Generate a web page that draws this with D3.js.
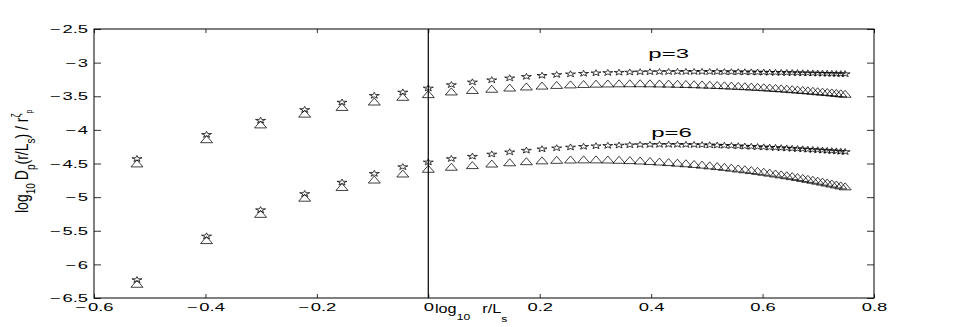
<!DOCTYPE html>
<html>
<head>
<meta charset="utf-8">
<script src="https://cdn.jsdelivr.net/npm/d3@7/dist/d3.min.js"></script>
<style>
  body { margin: 0; background: #fff; }
  text { font-family: "Liberation Sans", Arial, sans-serif; fill: #000; }
</style>
</head>
<body>
<svg id="chart"></svg>
<script>
// r / L_s sample points (x axis is log10 of these)
const rValues = [0.3, 0.4, 0.5, 0.6, 0.7, 0.8, 0.9, 1.0,
  1.1, 1.2, 1.3, 1.4, 1.5, 1.6, 1.7, 1.8, 1.9, 2.0,
  2.1, 2.2, 2.3, 2.4, 2.5, 2.6, 2.7, 2.8, 2.9, 3.0,
  3.1, 3.2, 3.3, 3.4, 3.5, 3.6, 3.7, 3.8, 3.9, 4.0,
  4.1, 4.2, 4.3, 4.4, 4.5, 4.6, 4.7, 4.8, 4.9, 5.0,
  5.1, 5.2, 5.3, 5.4, 5.5, 5.6];

const starP3 = [-4.43, -4.07, -3.86, -3.70, -3.59, -3.49, -3.44, -3.38,
  -3.330, -3.290, -3.258, -3.230, -3.208, -3.192, -3.180, -3.170, -3.162, -3.155,
  -3.150, -3.146, -3.143, -3.140, -3.138, -3.137, -3.136, -3.135, -3.135, -3.135,
  -3.135, -3.136, -3.137, -3.138, -3.139, -3.140, -3.141, -3.142, -3.144, -3.145,
  -3.146, -3.148, -3.149, -3.150, -3.152, -3.153, -3.155, -3.156, -3.158, -3.159,
  -3.161, -3.162, -3.164, -3.165, -3.167, -3.168];

const triP3 = [-4.50, -4.14, -3.92, -3.76, -3.66, -3.58, -3.51, -3.47,
  -3.430, -3.408, -3.390, -3.372, -3.356, -3.343, -3.333, -3.325, -3.319, -3.314,
  -3.311, -3.309, -3.308, -3.308, -3.309, -3.311, -3.313, -3.316, -3.319, -3.322,
  -3.326, -3.330, -3.334, -3.338, -3.343, -3.347, -3.352, -3.357, -3.362, -3.367,
  -3.373, -3.378, -3.384, -3.390, -3.396, -3.402, -3.408, -3.414, -3.420, -3.427,
  -3.433, -3.439, -3.445, -3.452, -3.458, -3.465];

const starP6 = [-6.23, -5.58, -5.19, -4.95, -4.78, -4.65, -4.55, -4.48,
  -4.430, -4.395, -4.362, -4.330, -4.305, -4.285, -4.270, -4.258, -4.248, -4.240,
  -4.234, -4.229, -4.225, -4.222, -4.220, -4.219, -4.219, -4.219, -4.220, -4.222,
  -4.224, -4.227, -4.230, -4.233, -4.237, -4.241, -4.245, -4.249, -4.253, -4.257,
  -4.261, -4.265, -4.269, -4.273, -4.278, -4.282, -4.286, -4.291, -4.295, -4.300,
  -4.304, -4.308, -4.313, -4.317, -4.322, -4.326];

const triP6 = [-6.29, -5.64, -5.25, -5.01, -4.85, -4.74, -4.65, -4.58,
  -4.550, -4.525, -4.502, -4.483, -4.467, -4.455, -4.447, -4.442, -4.440, -4.440,
  -4.442, -4.446, -4.451, -4.457, -4.464, -4.472, -4.480, -4.489, -4.498, -4.508,
  -4.518, -4.529, -4.540, -4.551, -4.563, -4.575, -4.587, -4.599, -4.611, -4.624,
  -4.637, -4.650, -4.663, -4.676, -4.689, -4.703, -4.716, -4.730, -4.743, -4.757,
  -4.771, -4.785, -4.799, -4.813, -4.827, -4.841];

const xTicks = [-0.6, -0.4, -0.2, 0, 0.2, 0.4, 0.6, 0.8];
const yTicks = [-2.5, -3, -3.5, -4, -4.5, -5, -5.5, -6, -6.5];
const curveLabels = [
  { text: "p=3", x: 0.395, y: -2.93 },
  { text: "p=6", x: 0.400, y: -4.10 }
];

const width = 977, height = 327;
const margin = { left: 94, right: 103, top: 29, bottom: 29 };
const innerW = width - margin.left - margin.right;
const innerH = height - margin.top - margin.bottom;
const stretch = 1.6; // the picture is wider than it is tall

const svg = d3.select("#chart").attr("width", width).attr("height", height);
const g = svg.append("g").attr("transform", `translate(${margin.left},${margin.top})`);

const x = d3.scaleLinear().domain([-0.6, 0.8]).range([0, innerW]);
const y = d3.scaleLinear().domain([-6.5, -2.5]).range([innerH, 0]);

// tick label with a long minus sign, as in the original
function tickLabel(sel) {
  sel.each(function(d) {
    const t = d3.select(this).text("");
    if (d < 0) {
      t.append("tspan").text("\u2212");
      t.append("tspan").attr("dx", 1).text(Math.abs(d));
    } else {
      t.append("tspan").text(d);
    }
  });
}

// axes, ticks pointing inward
const xAxis = g.append("g").attr("transform", `translate(0,${innerH})`)
  .call(d3.axisBottom(x).tickValues(xTicks).tickSizeInner(-4).tickSizeOuter(0).tickPadding(5));
const xTop = g.append("g")
  .call(d3.axisTop(x).tickValues(xTicks).tickSizeInner(-4).tickSizeOuter(0).tickFormat(""));
const yAxis = g.append("g")
  .call(d3.axisLeft(y).tickValues(yTicks).tickSizeInner(-7).tickSizeOuter(0).tickPadding(6));
const yRight = g.append("g").attr("transform", `translate(${innerW},0)`)
  .call(d3.axisRight(y).tickValues(yTicks).tickSizeInner(-7).tickSizeOuter(0).tickFormat(""));

[xAxis, xTop, yAxis, yRight].forEach(a => {
  a.select(".domain").remove();
  a.selectAll(".tick line").attr("stroke", "#000").attr("stroke-width", 0.8);
});

xAxis.selectAll(".tick text")
  .attr("font-size", 11.5)
  .attr("transform", `scale(${stretch},1)`)
  .call(tickLabel);
yAxis.selectAll(".tick text")
  .attr("font-size", 11.5)
  .attr("x", -6 / stretch)
  .attr("transform", `scale(${stretch},1)`)
  .call(tickLabel);

// frame
g.append("rect")
  .attr("width", innerW).attr("height", innerH)
  .attr("fill", "none").attr("stroke", "#000").attr("stroke-width", 1);

// vertical line at x = 0
g.append("line")
  .attr("x1", x(0)).attr("x2", x(0))
  .attr("y1", 0).attr("y2", innerH)
  .attr("stroke", "#000").attr("stroke-width", 1.2);

// marker shapes
function starPath(R) {
  const pts = [];
  for (let i = 0; i < 10; i++) {
    const rr = i % 2 === 0 ? R : R * 0.382;
    const a = -Math.PI / 2 + i * Math.PI / 5;
    pts.push([rr * Math.cos(a) * stretch, rr * Math.sin(a)]);
  }
  return "M" + pts.map(p => p.join(",")).join("L") + "Z";
}
const triPath = "M0,-3.6L6,3.4L-6,3.4Z";
const star = starPath(3.3);

function drawSeries(values, path) {
  g.append("g").selectAll("path")
    .data(values.map((v, i) => ({ x: Math.log10(rValues[i]), y: v })))
    .enter().append("path")
    .attr("d", path)
    .attr("transform", d => `translate(${x(d.x)},${y(d.y)})`)
    .attr("fill", "none")
    .attr("stroke", "#000")
    .attr("stroke-width", 0.75);
}
drawSeries(triP3, triPath);
drawSeries(starP3, star);
drawSeries(triP6, triPath);
drawSeries(starP6, star);

// curve labels
curveLabels.forEach(l => {
  g.append("text")
    .attr("transform", `translate(${x(l.x)},${y(l.y)}) scale(2,1)`)
    .attr("font-size", 12)
    .text(l.text);
});

// x label: log10 r/Ls
const xl = svg.append("text")
  .attr("transform", `translate(435,313) scale(1.35,1)`)
  .attr("font-size", 12);
xl.append("tspan").text("log");
xl.append("tspan").attr("font-size", 9).attr("dy", 7).text("10");
xl.append("tspan").attr("dx", 9).attr("dy", -7).text("r/L");
xl.append("tspan").attr("font-size", 9).attr("dy", 9).text("s");

// y label: log10 Dp(r/Ls)/r^ζp
const yl = svg.append("text")
  .attr("transform", `translate(28,213) rotate(-90) scale(1,1.35)`)
  .attr("font-size", 14);
yl.append("tspan").text("log");
yl.append("tspan").attr("font-size", 10).attr("dy", 5).text("10");
yl.append("tspan").attr("dx", 3).attr("dy", -5).text("D");
yl.append("tspan").attr("font-size", 10).attr("dy", 5).text("p");
yl.append("tspan").attr("dy", -5).text("(r/L");
yl.append("tspan").attr("font-size", 10).attr("dy", 5).text("s");
yl.append("tspan").attr("dy", -5).text(") / r");
yl.append("tspan").attr("font-size", 9).attr("dy", -6).text("\u03b6");
yl.append("tspan").attr("font-size", 7).attr("dy", 9).text("p");
</script>
</body>
</html>
